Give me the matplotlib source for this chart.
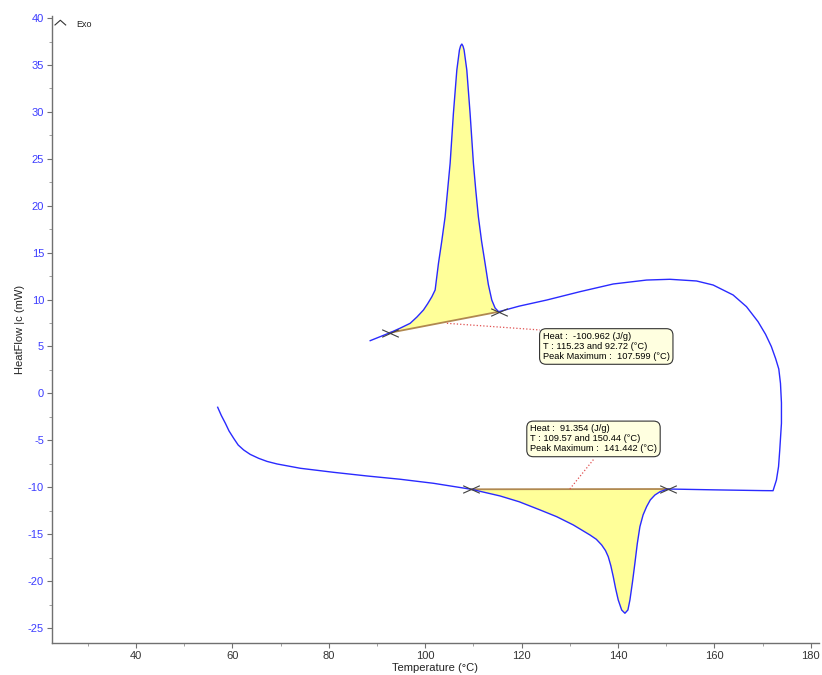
import numpy as np
import matplotlib
matplotlib.use("Agg")
import matplotlib.pyplot as plt
from matplotlib.path import Path
from matplotlib.ticker import MultipleLocator

plt.rcParams['font.family'] = ['Liberation Sans', 'DejaVu Sans']
plt.rcParams['axes.unicode_minus'] = False

# ============= Data =============

# heating run: temperature (°C) and heat flow (mW)
heat_temp = [56.95, 57.7, 58.55, 59.3, 60.27, 61.2, 62.34, 63.7, 65.45, 67.2, 69.26,
             74.09, 80.99, 87.91, 94.81, 101.71, 109.57, 115.53, 119.5, 123.82, 127.28,
             130.72, 134.18, 135.5, 136.6, 137.4, 137.97, 138.5, 139.01, 139.5, 140.04,
             140.75, 141.43, 142.05, 142.47, 143.0, 143.5, 144.0, 144.54, 145.2, 145.93,
             146.7, 147.65, 148.8, 150.44, 160.0, 170.0, 172.16]
heat_flow = [-1.48, -2.35, -3.19, -4.0, -4.79, -5.5, -6.03, -6.5, -6.92, -7.25, -7.52,
             -7.98, -8.41, -8.80, -9.15, -9.58, -10.22, -10.93, -11.55, -12.42, -13.14,
             -14.02, -15.09, -15.55, -16.15, -16.75, -17.40, -18.35, -19.53, -20.8, -22.01,
             -23.08, -23.43, -23.08, -22.01, -20.1, -18.10, -16.0, -14.20, -12.95, -12.07,
             -11.35, -10.83, -10.45, -10.19, -10.28, -10.36, -10.37]

# turn-around + cooling run
cool_temp = [172.86, 173.3, 173.55, 173.9, 173.9, 173.7, 173.35, 172.7, 171.8, 170.6,
             169.05, 166.65, 163.87, 159.73, 156.29, 150.76, 145.93, 139.01, 132.11, 125.21,
             119.5, 115.23, 114.5, 113.81, 113.1, 112.42, 111.7, 111.03, 110.5, 110.0,
             109.31, 108.63, 108.07, 107.85, 107.6, 107.35, 107.1, 106.56, 105.85, 105.17,
             104.6, 104.13, 103.4, 102.75, 102.06, 101.38, 100.5, 99.64, 98.3, 96.88,
             94.8, 92.72, 88.59]
cool_flow = [-9.23, -7.8, -6.03, -3.19, -1.0, 1.07, 2.6, 3.7, 5.0, 6.3,
             7.64, 9.24, 10.49, 11.55, 11.98, 12.16, 12.08, 11.66, 10.84, 9.95,
             9.3, 8.70, 9.1, 9.95, 11.6, 13.86, 16.2, 18.83, 21.6, 24.52,
             29.85, 34.46, 36.59, 37.0, 37.23, 37.05, 36.59, 34.46, 29.85, 24.52,
             21.4, 18.83, 16.1, 13.86, 11.02, 10.30, 9.55, 8.89, 8.15, 7.47,
             6.95, 6.47, 5.62]

# integration limits (°C)
heat_limits = [109.57, 150.44]
cool_limits = [92.72, 115.23]

heat_label = "Heat :  91.354 (J/g)\nT : 109.57 and 150.44 (°C)\nPeak Maximum :  141.442 (°C)"
cool_label = "Heat :  -100.962 (J/g)\nT : 115.23 and 92.72 (°C)\nPeak Maximum :  107.599 (°C)"

# ============= Plot =============

heat_temp = np.array(heat_temp); heat_flow = np.array(heat_flow)
cool_temp = np.array(cool_temp); cool_flow = np.array(cool_flow)

fig = plt.figure(figsize=(8.22, 6.75), dpi=100)
ax = fig.add_axes([0.0628, 0.047, 0.9336, 0.930])

line_color = '#2a2aff'
fill_color = '#ffff99'
base_color = '#b08850'

# flattened "x" marker used for the integration limits
cross = Path([(-1, -0.45), (1, 0.45), (-1, 0.45), (1, -0.45)],
             [Path.MOVETO, Path.LINETO, Path.MOVETO, Path.LINETO])

for temp, flow, lims in [(heat_temp, heat_flow, heat_limits), (cool_temp, cool_flow, cool_limits)]:
    m = (temp >= lims[0]) & (temp <= lims[1])
    ax.fill(temp[m], flow[m], color=fill_color, lw=0, zorder=1)
    # baseline between the two limits
    order = np.argsort(temp[m])
    b = [np.interp(l, temp[m][order], flow[m][order]) for l in lims]
    ax.plot(lims, b, color=base_color, lw=1.3, zorder=2)
    ax.plot(lims, b, ls='none', marker=cross, ms=12, mec='#404040', mew=0.8, zorder=4)

ax.plot(np.concatenate([heat_temp, cool_temp]), np.concatenate([heat_flow, cool_flow]),
        color=line_color, lw=1.0, zorder=3)

# annotation boxes with dotted leader lines
box = dict(boxstyle='round,pad=0.35,rounding_size=0.7', fc='#ffffe0', ec='#333333', lw=0.8)
ax.plot([104.5, 123.8], [7.47, 6.76], ls=':', color='#e05050', lw=0.9, zorder=2)
ax.text(124.4, 6.55, cool_label, fontsize=6.7, va='top', ha='left', bbox=box,
        linespacing=1.15, zorder=5)
ax.plot([130.0, 135.0], [-10.19, -6.99], ls=':', color='#e05050', lw=0.9, zorder=2)
ax.text(121.75, -3.3, heat_label, fontsize=6.7, va='top', ha='left', bbox=box,
        linespacing=1.15, zorder=5)

ax.set_xlim(22.5, 181.7)
ax.set_ylim(-26.63, 40.27)
ax.xaxis.set_major_locator(MultipleLocator(20))
ax.xaxis.set_minor_locator(MultipleLocator(10))
ax.yaxis.set_major_locator(MultipleLocator(5))
ax.yaxis.set_minor_locator(MultipleLocator(2.5))
ax.set_xticks([40, 60, 80, 100, 120, 140, 160, 180])

for side in ['top', 'right']:
    ax.spines[side].set_visible(False)
for side in ['left', 'bottom']:
    ax.spines[side].set_color('#707070')
    ax.spines[side].set_linewidth(1.0)

ax.tick_params(which='major', length=3.6, pad=1.8, color='#707070', labelsize=8)
ax.tick_params(which='minor', length=2.2, color='#909090')
ax.tick_params(axis='y', labelcolor='#3c3cff')
ax.tick_params(axis='x', labelcolor='#333333')

ax.set_xlabel('Temperature (°C)', fontsize=8, color='#222222')
ax.set_ylabel('HeatFlow |c (mW)', fontsize=8, color='#222222')
ax.xaxis.set_label_coords(0.5, -0.032)
ax.yaxis.set_label_coords(-0.035, 0.5)

# "Exo" direction indicator
fig.lines.append(plt.Line2D([0.0669, 0.0734, 0.0799], [0.963, 0.970, 0.963],
                            transform=fig.transFigure, color='#333333', lw=0.8))
fig.text(0.0925, 0.963, 'Exo', fontsize=6.5, va='center', ha='left', color='#222222')

fig.savefig('out.png', dpi=100)
